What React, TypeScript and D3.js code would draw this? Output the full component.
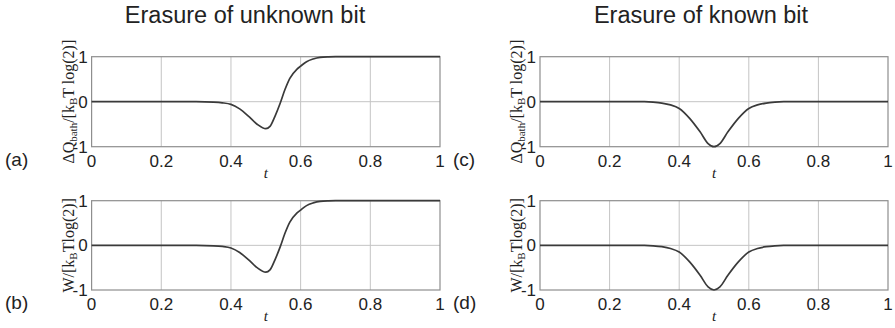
import React from "react";
import * as d3 from "d3";

// ---- data ----
const titles = ["Erasure of unknown bit", "Erasure of known bit"];
const panelLetters = ["(a)", "(b)", "(c)", "(d)"];
const xTicks = [0, 0.2, 0.4, 0.6, 0.8, 1];
const xTickLabels = ["0", "0.2", "0.4", "0.6", "0.8", "1"];
const yTicks = [-1, 0, 1];
const yTickLabels = ["-1", "0", "1"];

// unknown bit (panels a, b)
const tUnknown = [0, 0.3, 0.35, 0.375, 0.4, 0.425, 0.45, 0.475, 0.5, 0.512, 0.526, 0.541, 0.555, 0.569, 0.589, 0.6, 0.617, 0.636, 0.656, 0.68, 0.7, 0.75, 1];
const heatUnknown = [0, 0, -0.01, -0.025, -0.06, -0.16, -0.32, -0.5, -0.6, -0.55, -0.33, -0.04, 0.27, 0.52, 0.72, 0.79, 0.89, 0.95, 0.985, 0.997, 1, 1, 1];
const workUnknown = [0, 0, -0.01, -0.025, -0.06, -0.16, -0.32, -0.5, -0.6, -0.55, -0.33, -0.04, 0.27, 0.52, 0.72, 0.79, 0.89, 0.95, 0.985, 0.997, 1, 1, 1];

// known bit (panels c, d)
const tKnown = [0, 0.3, 0.325, 0.35, 0.375, 0.4, 0.43, 0.46, 0.483, 0.5, 0.517, 0.54, 0.57, 0.6, 0.625, 0.65, 0.675, 0.7, 1];
const heatKnown = [0, 0, -0.01, -0.03, -0.07, -0.15, -0.37, -0.67, -0.93, -1, -0.93, -0.67, -0.37, -0.15, -0.07, -0.03, -0.01, 0, 0];
const workKnown = [0, 0, -0.01, -0.03, -0.07, -0.15, -0.37, -0.67, -0.93, -1, -0.93, -0.67, -0.37, -0.15, -0.07, -0.03, -0.01, 0, 0];

const W = 895;
const H = 328;
const SANS = "'Liberation Sans', Arial, Helvetica, sans-serif";
const SERIF = "'Liberation Serif', 'Times New Roman', serif";

type PanelProps = {
  left: number;
  top: number;
  width: number;
  height: number;
  t: number[];
  v: number[];
  letter: string;
  letterX: number;
  labelX: number;
  kind: "heat" | "work";
};

function YLabel({ x, y, kind }: { x: number; y: number; kind: "heat" | "work" }) {
  const sub = { fontSize: 11 } as const;
  if (kind === "heat") {
    return (
      <text
        transform={`translate(${x},${y}) rotate(-90)`}
        textAnchor="middle"
        fontFamily={SERIF}
        fontSize={16}
        fill="#222"
      >
        ΔQ
        <tspan dy={3} {...sub}>bath</tspan>
        <tspan dy={-3}>/[k</tspan>
        <tspan dy={3} {...sub}>B</tspan>
        <tspan dy={-3}>T log(2)]</tspan>
      </text>
    );
  }
  return (
    <text
      transform={`translate(${x},${y}) rotate(-90)`}
      textAnchor="middle"
      fontFamily={SERIF}
      fontSize={16}
      fill="#222"
    >
      W/[k
      <tspan dy={3} {...sub}>B</tspan>
      <tspan dy={-3}>Tlog(2)]</tspan>
    </text>
  );
}

function Panel(p: PanelProps) {
  const x = d3.scaleLinear().domain([0, 1]).range([p.left, p.left + p.width]);
  const y = d3.scaleLinear().domain([-1, 1]).range([p.top + p.height, p.top]);
  const pts = p.t.map((tt, i) => [tt, p.v[i]] as [number, number]);
  const line = d3
    .line<[number, number]>()
    .x((d) => x(d[0]))
    .y((d) => y(d[1]))
    .curve(d3.curveMonotoneX);
  const bottom = p.top + p.height;
  return (
    <g>
      {xTicks.slice(1, -1).map((tk) => (
        <line key={"gx" + tk} x1={x(tk)} x2={x(tk)} y1={p.top} y2={bottom} stroke="#c4c4c4" strokeWidth={1} />
      ))}
      {yTicks.slice(1, -1).map((tk) => (
        <line key={"gy" + tk} x1={p.left} x2={p.left + p.width} y1={y(tk)} y2={y(tk)} stroke="#c4c4c4" strokeWidth={1} />
      ))}
      <rect x={p.left} y={p.top} width={p.width} height={p.height} fill="none" stroke="#8e8e8e" strokeWidth={1.2} />
      <path d={line(pts) || ""} fill="none" stroke="#3a3a3a" strokeWidth={1.7} />
      {xTicks.map((tk, i) => (
        <text key={"xt" + tk} x={x(tk)} y={bottom + 20} textAnchor="middle" fontFamily={SANS} fontSize={17} fill="#222">
          {xTickLabels[i]}
        </text>
      ))}
      {yTicks.map((tk, i) => (
        <text
          key={"yt" + tk}
          x={p.left - 4}
          y={y(tk) + 6}
          textAnchor="end"
          fontFamily={SANS}
          fontSize={17}
          fill="#222"
        >
          {yTickLabels[i]}
        </text>
      ))}
      <text x={p.left + p.width / 2} y={bottom + 31} textAnchor="middle" fontFamily={SERIF} fontStyle="italic" fontSize={15} fill="#222">
        t
      </text>
      <YLabel x={p.labelX} y={p.top + p.height / 2} kind={p.kind} />
      <text x={p.letterX} y={bottom + 19} fontFamily={SANS} fontSize={19} fill="#222">
        {p.letter}
      </text>
    </g>
  );
}

export default function App() {
  const cols = [
    { left: 91.6, width: 348.4, title: titles[0], titleX: 245, letterX: 5, labelX: 74 },
    { left: 540, width: 348, title: titles[1], titleX: 701, letterX: 453, labelX: 522 },
  ];
  const rows = [
    { top: 56.7, height: 90 },
    { top: 200.7, height: 89.3 },
  ];
  return (
    <svg width={W} height={H} style={{ position: "absolute", left: 0, top: 0, background: "#fff" }}>
      <rect x={0} y={0} width={W} height={H} fill="#fff" />
      {cols.map((c) => (
        <text key={c.title} x={c.titleX} y={23} textAnchor="middle" fontFamily={SANS} fontSize={23.5} fill="#222">
          {c.title}
        </text>
      ))}
      <Panel {...cols[0]} {...rows[0]} t={tUnknown} v={heatUnknown} letter={panelLetters[0]} kind="heat" />
      <Panel {...cols[0]} {...rows[1]} t={tUnknown} v={workUnknown} letter={panelLetters[1]} kind="work" />
      <Panel {...cols[1]} {...rows[0]} t={tKnown} v={heatKnown} letter={panelLetters[2]} kind="heat" />
      <Panel {...cols[1]} {...rows[1]} t={tKnown} v={workKnown} letter={panelLetters[3]} kind="work" />
    </svg>
  );
}
